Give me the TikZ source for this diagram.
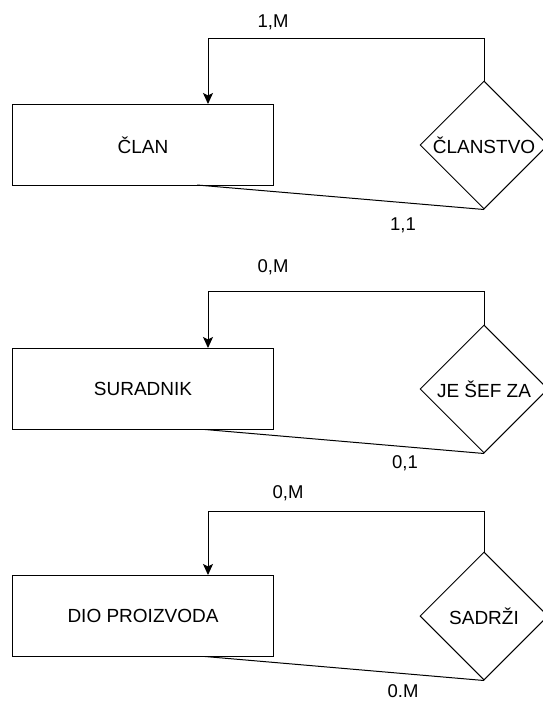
\documentclass[tikz,border=0pt]{standalone}
\usepackage{fontspec}
\setmainfont{Liberation Sans}
\usetikzlibrary{shapes.geometric,arrows.meta,calc}

\tikzset{
  entity/.style={draw, line width=1pt, minimum width=261pt, minimum height=81pt,
                 inner sep=0pt, font=\fontsize{19}{22}\selectfont},
  relation/.style={draw, diamond, aspect=1, line width=1pt, minimum width=128pt,
                   minimum height=128pt, inner sep=0pt, font=\fontsize{19}{22}\selectfont},
  link/.style={line width=1pt},
  card/.style={font=\fontsize{18.5}{22}\selectfont, inner sep=0pt},
  tip/.style={-{Stealth[length=11pt,width=10pt,inset=2.5pt]}}
}

\begin{document}
\begin{tikzpicture}[x=1pt,y=-1pt]
  \useasboundingbox (0,0) rectangle (542,701);

  % ---- ČLAN / ČLANSTVO ----
  \node[entity]   (e1) at (143,145) {ČLAN};
  \node[relation] (r1) at (484,145) {ČLANSTVO};
  \coordinate (t1) at (484,39);
  \coordinate (a1) at (208,39);
  \draw[link,tip] (r1.north) -- (t1) -- (a1) -- (a1 |- e1.north);
  \coordinate (b1) at (197,185);
  \draw[link] (b1) -- (r1.south);
  \node[card] (m1) at (273,22) {1,M};
  \node[card] (n1) at (403,225) {1,1};

  % ---- SURADNIK / JE ŠEF ZA ----
  \node[entity]   (e2) at (143,389) {SURADNIK};
  \node[relation] (r2) at (484,389) {JE ŠEF ZA};
  \coordinate (t2) at (484,291);
  \coordinate (a2) at (208,291);
  \draw[link,tip] (r2.north) -- (t2) -- (a2) -- (a2 |- e2.north);
  \coordinate (b2) at (205,429.5);
  \draw[link] (b2) -- (r2.south);
  \node[card] (m2) at (273,267) {0,M};
  \node[card] (n2) at (405,463) {0,1};

  % ---- DIO PROIZVODA / SADRŽI ----
  \node[entity]   (e3) at (143,616) {DIO PROIZVODA};
  \node[relation] (r3) at (484,616) {SADRŽI};
  \coordinate (t3) at (484,511);
  \coordinate (a3) at (208,511);
  \draw[link,tip] (r3.north) -- (t3) -- (a3) -- (a3 |- e3.north);
  \coordinate (b3) at (205,656.5);
  \draw[link] (b3) -- (r3.south);
  \node[card] (m3) at (288,493) {0,M};
  \node[card] (n3) at (403,691) {0.M};
\end{tikzpicture}
\end{document}
